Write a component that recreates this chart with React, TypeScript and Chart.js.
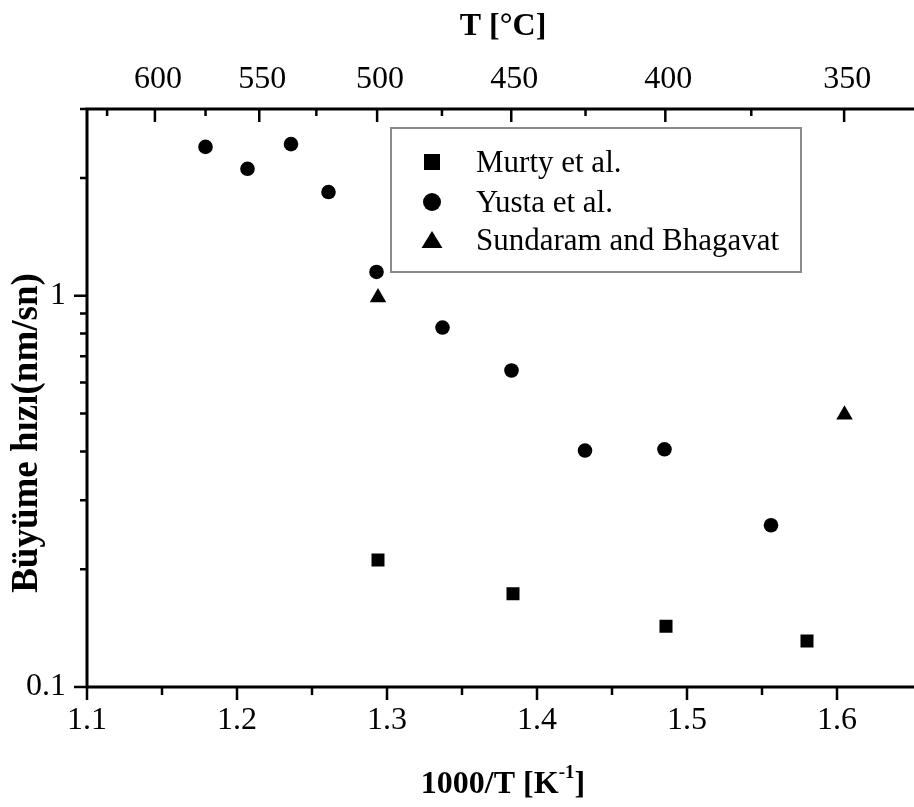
import React, { useEffect, useRef } from 'react';
import { Chart, registerables } from 'chart.js';

Chart.register(...registerables);

// ---- data ----
const seriesNames = ['Murty et al.', 'Yusta et al.', 'Sundaram and Bhagavat'];
const murtyX = [1.294, 1.384, 1.486, 1.580];
const murtyY = [0.211, 0.173, 0.143, 0.131];
const yustaX = [1.179, 1.207, 1.236, 1.261, 1.293, 1.337, 1.383, 1.432, 1.485, 1.556];
const yustaY = [2.40, 2.11, 2.44, 1.84, 1.15, 0.829, 0.644, 0.402, 0.405, 0.259];
const sundaramX = [1.294, 1.605];
const sundaramY = [0.99, 0.496];

// ---- axis ticks ----
const xMin = 1.1;
const xMax = 1.645;
const yMin = 0.1;
const yMax = 3;
const xMajor = [1.1, 1.2, 1.3, 1.4, 1.5, 1.6];
const xMinor = [1.15, 1.25, 1.35, 1.45, 1.55];
const yMajor = [0.1, 1];
const yMinor = [0.2, 0.3, 0.4, 0.5, 0.6, 0.7, 0.8, 0.9, 2, 3];
const cMajor = [600, 550, 500, 450, 400, 350];
const cMinor = [625, 575, 525, 475, 425, 375];

const toInvK = (c: number) => 1000 / (c + 273.15);
const SERIF = '"Liberation Serif", "Times New Roman", serif';

const pts = (xs: number[], ys: number[]) => xs.map((x, i) => ({ x, y: ys[i] }));

const axesPlugin = {
  id: 'customAxes',
  afterDraw(chart: any) {
    const { ctx, chartArea: a, scales } = chart;
    const sx = scales.x;
    const sy = scales.y;
    ctx.save();
    ctx.strokeStyle = '#000';
    ctx.lineCap = 'butt';
    ctx.lineWidth = 3;
    ctx.beginPath();
    ctx.moveTo(a.left, a.top - 1.5);
    ctx.lineTo(a.left, a.bottom + 1.5);
    ctx.moveTo(a.left - 1.5, a.bottom);
    ctx.lineTo(chart.width, a.bottom);
    ctx.moveTo(a.left - 1.5, a.top);
    ctx.lineTo(chart.width, a.top);
    ctx.stroke();

    ctx.lineWidth = 2.5;
    ctx.beginPath();
    const t = (px: number, py: number, dx: number, dy: number) => {
      ctx.moveTo(px, py);
      ctx.lineTo(px + dx, py + dy);
    };
    xMajor.forEach((v) => t(sx.getPixelForValue(v), a.bottom, 0, 13));
    xMinor.forEach((v) => t(sx.getPixelForValue(v), a.bottom, 0, 8));
    yMajor.forEach((v) => t(a.left, sy.getPixelForValue(v), -13, 0));
    yMinor.forEach((v) => t(a.left, sy.getPixelForValue(v), -7, 0));
    cMajor.forEach((c) => t(sx.getPixelForValue(toInvK(c)), a.top, 0, 13));
    cMinor.forEach((c) => t(sx.getPixelForValue(toInvK(c)), a.top, 0, 7));
    ctx.stroke();

    // axis titles
    ctx.fillStyle = '#000';
    ctx.textBaseline = 'alphabetic';
    // top title
    ctx.font = `bold 32px ${SERIF}`;
    ctx.textAlign = 'center';
    ctx.fillText('T [°C]', 503, 35);
    // bottom title with superscript
    const main1 = '1000/T [K';
    const sup = '-1';
    const end = ']';
    ctx.font = `bold 32px ${SERIF}`;
    const w1 = ctx.measureText(main1).width;
    const w3 = ctx.measureText(end).width;
    ctx.font = `bold 19px ${SERIF}`;
    const w2 = ctx.measureText(sup).width;
    const total = w1 + w2 + w3;
    const xs = 503 - total / 2;
    ctx.textAlign = 'left';
    ctx.font = `bold 32px ${SERIF}`;
    ctx.fillText(main1, xs, 793);
    ctx.font = `bold 19px ${SERIF}`;
    ctx.fillText(sup, xs + w1, 778);
    ctx.font = `bold 32px ${SERIF}`;
    ctx.fillText(end, xs + w1 + w2, 793);
    // y title
    ctx.save();
    ctx.translate(37, 433);
    ctx.rotate(-Math.PI / 2);
    ctx.font = `bold 37px ${SERIF}`;
    ctx.textAlign = 'center';
    ctx.fillText('Büyüme hızı(nm/sn)', 0, 0);
    ctx.restore();
    ctx.restore();
  },
};

const legendPlugin = {
  id: 'boxLegend',
  afterDatasetsDraw(chart: any) {
    const { ctx } = chart;
    const bx = 391;
    const by = 128;
    const bw = 410;
    const bh = 144;
    ctx.save();
    ctx.fillStyle = '#fff';
    ctx.fillRect(bx, by, bw, bh);
    ctx.strokeStyle = '#8a8a8a';
    ctx.lineWidth = 2;
    ctx.strokeRect(bx, by, bw, bh);
    const rows = [162, 202, 240];
    const mx = 432;
    ctx.fillStyle = '#000';
    // square
    ctx.fillRect(mx - 8, rows[0] - 8, 16, 16);
    // circle
    ctx.beginPath();
    ctx.arc(mx, rows[1], 9, 0, Math.PI * 2);
    ctx.fill();
    // triangle
    ctx.beginPath();
    ctx.moveTo(mx, rows[2] - 9);
    ctx.lineTo(mx + 10.5, rows[2] + 8);
    ctx.lineTo(mx - 10.5, rows[2] + 8);
    ctx.closePath();
    ctx.fill();
    ctx.font = `31px ${SERIF}`;
    ctx.textAlign = 'left';
    ctx.textBaseline = 'alphabetic';
    seriesNames.forEach((n, i) => ctx.fillText(n, 476, rows[i] + 10));
    ctx.restore();
  },
};

export default function App() {
  const ref = useRef<HTMLCanvasElement | null>(null);
  useEffect(() => {
    if (!ref.current) return;
    const tickFont = { family: SERIF, size: 32 };
    const chart = new Chart(ref.current, {
      type: 'scatter',
      data: {
        datasets: [
          {
            label: seriesNames[0],
            data: pts(murtyX, murtyY),
            pointStyle: 'rect',
            pointRadius: 9.2,
            backgroundColor: '#000',
            borderWidth: 0,
          },
          {
            label: seriesNames[1],
            data: pts(yustaX, yustaY),
            pointStyle: 'circle',
            pointRadius: 7.3,
            backgroundColor: '#000',
            borderWidth: 0,
          },
          {
            label: seriesNames[2],
            data: pts(sundaramX, sundaramY),
            pointStyle: 'triangle',
            pointRadius: 9.5,
            backgroundColor: '#000',
            borderWidth: 0,
          },
        ],
      },
      options: {
        responsive: false,
        animation: false,
        layout: { padding: { left: 0, right: 1, top: 0, bottom: 0 } },
        plugins: { legend: { display: false }, tooltip: { enabled: false } },
        scales: {
          x: {
            type: 'linear',
            position: 'bottom',
            min: xMin,
            max: xMax,
            grid: { display: false, drawTicks: false, tickLength: 0 },
            border: { display: false },
            ticks: {
              font: tickFont,
              color: '#000',
              padding: 14,
              autoSkip: false,
              maxRotation: 0,
              callback: (v: any) => Number(v).toFixed(1),
            },
            afterBuildTicks: (s: any) => {
              s.ticks = xMajor.map((value) => ({ value }));
            },
            afterFit: (s: any) => {
              s.height = 120;
            },
          },
          x2: {
            type: 'linear',
            position: 'top',
            min: xMin,
            max: xMax,
            grid: { display: false, drawTicks: false, tickLength: 0 },
            border: { display: false },
            ticks: {
              font: tickFont,
              color: '#000',
              padding: 10,
              labelOffset: 3,
              autoSkip: false,
              maxRotation: 0,
              callback: (v: any) => String(Math.round(1000 / Number(v) - 273.15)),
            },
            afterBuildTicks: (s: any) => {
              s.ticks = cMajor.map((c) => ({ value: toInvK(c) }));
            },
            afterFit: (s: any) => {
              s.height = 109;
            },
          },
          y: {
            type: 'logarithmic',
            position: 'left',
            min: yMin,
            max: yMax,
            grid: { display: false, drawTicks: false, tickLength: 0 },
            border: { display: false },
            ticks: {
              font: tickFont,
              color: '#000',
              padding: 21,
              autoSkip: false,
              callback: (v: any) => String(v),
            },
            afterBuildTicks: (s: any) => {
              s.ticks = yMajor.map((value) => ({ value }));
            },
            afterFit: (s: any) => {
              s.width = 87;
            },
          },
        },
      },
      plugins: [axesPlugin, legendPlugin],
    } as any);
    return () => chart.destroy();
  }, []);
  return (
    <div style={{ position: 'fixed', left: 0, top: 0, width: 914, height: 807, background: '#fff' }}>
      <canvas ref={ref} width={914} height={807} style={{ display: 'block', width: 914, height: 807 }} />
    </div>
  );
}
